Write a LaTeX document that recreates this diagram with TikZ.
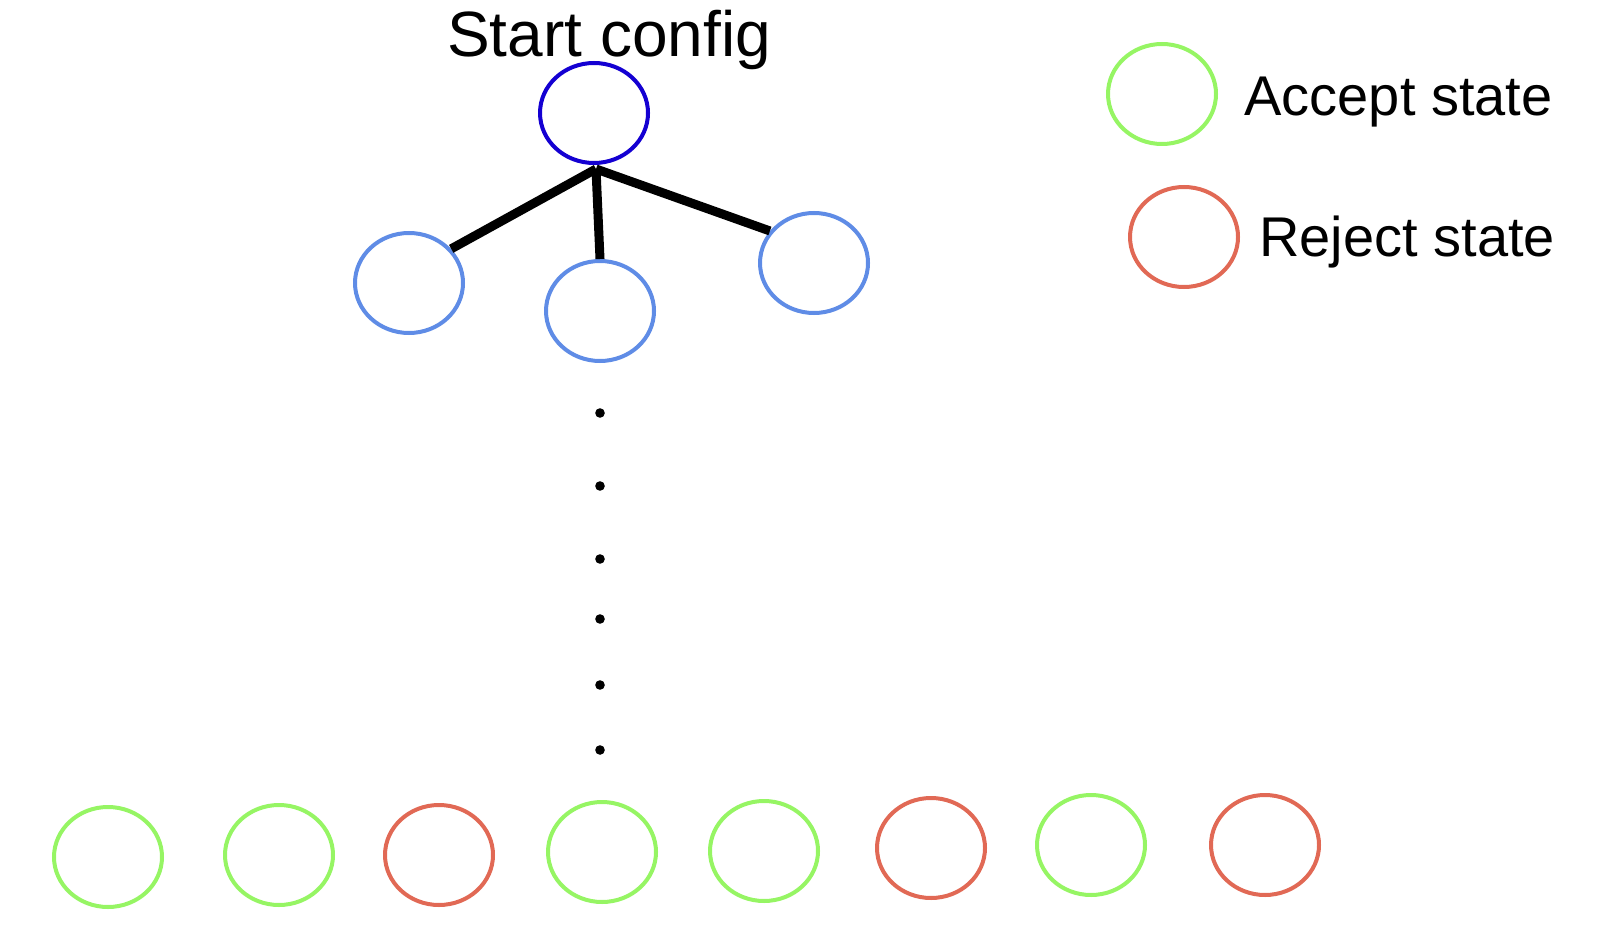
\documentclass[tikz,border=0pt]{standalone}
\usepackage{fontspec}
\setmainfont{Liberation Sans}
\usepackage{tikz}
\usetikzlibrary{shapes.geometric, positioning}

\definecolor{rootblue}{RGB}{20,0,210}
\definecolor{kidblue}{RGB}{95,140,230}
\definecolor{accgreen}{RGB}{150,245,100}
\definecolor{rejred}{RGB}{225,105,85}

\begin{document}
\begin{tikzpicture}[x=0.5pt, y=-0.5pt,
    state/.style = {draw, ellipse, line width=2pt, inner sep=0pt, minimum width=54pt, minimum height=50pt},
    accept/.style = {state, draw=accgreen},
    reject/.style = {state, draw=rejred},
    label/.style = {font=\fontsize{28}{32}\selectfont, inner sep=0pt, anchor=base west},
    branch/.style = {line width=4.5pt}]
    \useasboundingbox (0,0) rectangle (1604,930);
    % start configuration and its first children
    \node[state, draw=rootblue] (root) at (594,113) {};
    \node[font=\fontsize{32}{36}\selectfont] (title) at (609,40) {Start config};
    \node[state, draw=kidblue] (kidl) at (409,283) {};
    \node[state, draw=kidblue] (kidm) at (600,311) {};
    \node[state, draw=kidblue] (kidr) at (814,263) {};
    \coordinate (fork) at (596,169);
    \draw[branch] (fork) -- (kidl.39);
    \draw[branch] (fork) -- (kidm.north);
    \draw[branch] (fork) -- (kidr.144);
    % dots
    \foreach \y in {413,486,559,619,685,750}
      \fill (600,\y) circle (2.4pt);
    % leaves
    \foreach \x/\y/\kind [count=\i] in {108/857/accept, 279/855/accept, 439/855/reject,
        602/852/accept, 764/851/accept, 931/848/reject, 1091/845/accept, 1265/845/reject}
      \node[\kind] (leaf\i) at (\x,\y) {};
    % legend
    \node[accept] (legacc) at (1162,94) {};
    \node[reject] (legrej) at (1184,237) {};
    \node[label] (txtacc) at (1244,116) {Accept state};
    \node[label] (txtrej) at (1259,257) {Reject state};
\end{tikzpicture}
\end{document}
